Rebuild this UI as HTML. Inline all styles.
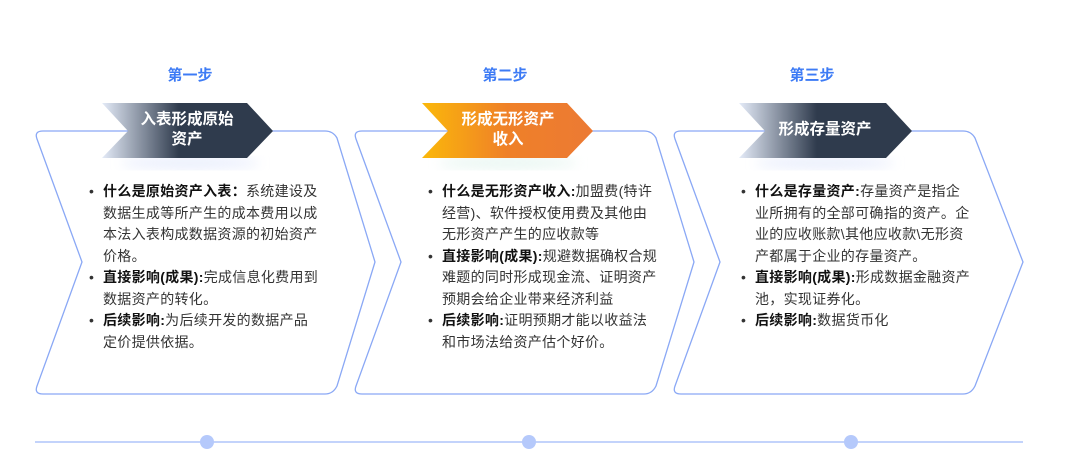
<!DOCTYPE html>
<html><head><meta charset="utf-8"><style>
body{margin:0;width:1073px;height:457px;background:#fff;position:relative;overflow:hidden;font-family:"Liberation Sans","Noto Sans CJK SC",sans-serif}
.t{position:absolute;font-size:14px;letter-spacing:0.3px;color:#333;white-space:nowrap;line-height:21.5px}
.t b{color:#111}
.st{position:absolute;color:#3d7bf5;font-weight:bold;font-size:15px;width:120px;text-align:center;top:64px}
.bn{position:absolute;color:#fff;font-weight:bold;font-size:15.5px;text-align:center;line-height:20px;width:130px}
.dot{position:absolute;width:14px;height:14px;border-radius:50%;background:#b5c9fb;top:435px}
ul{margin:0;padding:0;list-style:none}
li{position:relative}
li:before{content:"•";position:absolute;left:-14px;color:#333}
</style></head><body>
<svg width="1073" height="457" style="position:absolute;left:0;top:0">
<defs>
<linearGradient id="gd" x1="0" x2="1"><stop offset="0" stop-color="#e4ebf8"/><stop offset="0.45" stop-color="#2f3b4d"/><stop offset="1" stop-color="#2f3b4d"/></linearGradient>
<linearGradient id="go" x1="0" x2="1"><stop offset="0" stop-color="#fbb80a"/><stop offset="0.5" stop-color="#ef8028"/><stop offset="1" stop-color="#ec7a34"/></linearGradient>
<filter id="bl"><feGaussianBlur stdDeviation="6"/></filter>
</defs>
<g fill="none" stroke="#8aa8f5" stroke-width="1.3">
<path d="M43,131 L325,131 Q333,131 337,138 L375,262 L337,386 Q333,394 325,394 L43,394 Q34,394 37,386 L82,262 L37,139 Q34,131 43,131 Z"/>
<path transform="translate(319,0)" d="M43,131 L325,131 Q333,131 337,138 L375,262 L337,386 Q333,394 325,394 L43,394 Q34,394 37,386 L82,262 L37,139 Q34,131 43,131 Z"/>
<path transform="translate(638,0)" d="M43,131 L325,131 Q333,131 337,138 L385,262 L337,386 Q333,394 325,394 L43,394 Q34,394 37,386 L82,262 L37,139 Q34,131 43,131 Z"/>
</g>
<g fill="#dfe6fb" opacity="0.7" filter="url(#bl)">
<ellipse cx="190" cy="163" rx="70" ry="6"/><ellipse cx="508" cy="163" rx="70" ry="6" fill="#dff3ec"/><ellipse cx="825" cy="163" rx="70" ry="6"/>
</g>
<path d="M102,103 L247,103 L273,131 L247,158 L102,158 L128,131 Z" fill="url(#gd)"/>
<path d="M422,103 L567,103 L593,131 L567,158 L422,158 L448,131 Z" fill="url(#go)"/>
<path d="M739,103 L886,103 L912,131 L886,158 L739,158 L765,131 Z" fill="url(#gd)"/>
<line x1="35" y1="442" x2="1023" y2="442" stroke="#c3d3fb" stroke-width="2"/>
</svg>
<div class="dot" style="left:200px"></div><div class="dot" style="left:522px"></div><div class="dot" style="left:844px"></div>
<div class="st" style="left:130px">第一步</div>
<div class="st" style="left:445px">第二步</div>
<div class="st" style="left:752px">第三步</div>
<div class="bn" style="left:122px;top:110px">入表形成原始<br>资产</div>
<div class="bn" style="left:443px;top:110px">形成无形资产<br>收入</div>
<div class="bn" style="left:760px;top:120px">形成存量资产</div>
<div class="t" style="left:103px;top:181px"><ul>
<li><b>什么是原始资产入表：</b>系统建设及<br>数据生成等所产生的成本费用以成<br>本法入表构成数据资源的初始资产<br>价格。</li>
<li><b>直接影响(成果):</b>完成信息化费用到<br>数据资产的转化。</li>
<li><b>后续影响:</b>为后续开发的数据产品<br>定价提供依据。</li></ul></div>
<div class="t" style="left:442px;top:181px"><ul>
<li><b>什么是无形资产收入:</b>加盟费(特许<br>经营)、软件授权使用费及其他由<br>无形资产产生的应收款等</li>
<li><b>直接影响(成果):</b>规避数据确权合规<br>难题的同时形成现金流、证明资产<br>预期会给企业带来经济利益</li>
<li><b>后续影响:</b>证明预期才能以收益法<br>和市场法给资产估个好价。</li></ul></div>
<div class="t" style="left:755px;top:181px"><ul>
<li><b>什么是存量资产:</b>存量资产是指企<br>业所拥有的全部可确指的资产。企<br>业的应收账款\其他应收款\无形资<br>产都属于企业的存量资产。</li>
<li><b>直接影响(成果):</b>形成数据金融资产<br>池，实现证券化。</li>
<li><b>后续影响:</b>数据货币化</li></ul></div>
</body></html>
